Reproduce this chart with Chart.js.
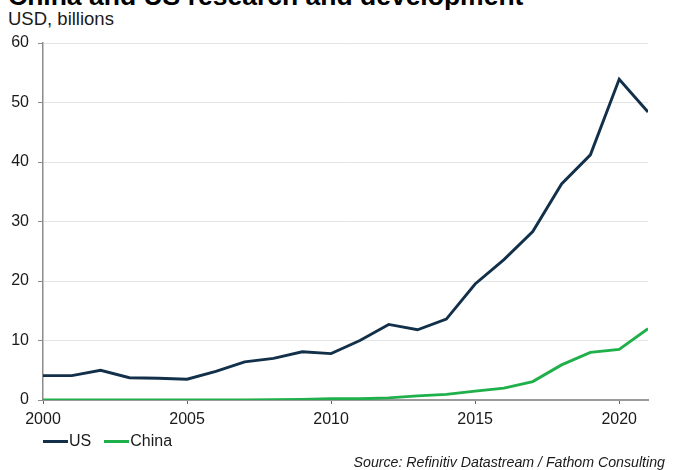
<!DOCTYPE html>
<html>
<head>
<meta charset="utf-8">
<script src="https://cdn.jsdelivr.net/npm/chart.js@4"></script>
<style>
  html, body { margin: 0; padding: 0; background: #fff; overflow: hidden; }
  #wrap { position: relative; width: 678px; height: 470px; font-family: "Liberation Sans", Arial, sans-serif; color: #1a1a1a; }
  #chart { position: absolute; left: 0; top: 0; }
  .titulo { position: absolute; left: 8px; top: -17px; font-size: 26.5px; line-height: 26.5px; font-weight: bold; color: #000; white-space: nowrap; }
  .unidade { position: absolute; left: 8px; top: 10px; font-size: 18.5px; line-height: 18.5px; }
  .fonte { position: absolute; right: 13px; top: 455px; font-size: 14.2px; line-height: 14px; font-style: italic; }
  .legenda { position: absolute; left: 43px; top: 432px; font-size: 16px; line-height: 18px; display: flex; gap: 13px; }
  .legenda span.item { display: flex; align-items: center; }
  .legenda span.linha { display: inline-block; width: 25px; height: 3px; margin-right: 1px; }
</style>
</head>
<body>
<div id="wrap">
  <div class="titulo">China and US research and development</div>
  <div class="unidade">USD, billions</div>
  <canvas id="chart" width="678" height="470"></canvas>
  <div class="legenda" id="legenda"></div>
  <div class="fonte">Source: Refinitiv Datastream / Fathom Consulting</div>
</div>
<script>
// anos e gastos em P&D (USD bilhões)
const anos = [2000, 2001, 2002, 2003, 2004, 2005, 2006, 2007, 2008, 2009, 2010,
              2011, 2012, 2013, 2014, 2015, 2016, 2017, 2018, 2019, 2020, 2021];
const valoresUS = [4.1, 4.1, 5.0, 3.75, 3.65, 3.5, 4.8, 6.4, 7.0, 8.1, 7.8,
                   10.0, 12.7, 11.8, 13.6, 19.5, 23.6, 28.3, 36.3, 41.2, 53.9, 48.4];
const valoresChina = [0, 0, 0, 0, 0, 0, 0, 0, 0.05, 0.1, 0.2,
                      0.2, 0.35, 0.7, 0.95, 1.5, 2.0, 3.1, 5.9, 8.0, 8.5, 12.0];
const ticksX = [2000, 2005, 2010, 2015, 2020];
const ticksY = [0, 10, 20, 30, 40, 50, 60];

const series = [
    { label: 'US', valores: valoresUS, cor: '#13304a' },
    { label: 'China', valores: valoresChina, cor: '#20b04b' }
];

const fonteEixo = { family: '"Liberation Sans", Arial, sans-serif', size: 16 };

const ctx = document.getElementById('chart').getContext('2d');
const chart = new Chart(ctx, {
    type: 'line',
    data: {
        datasets: series.map(s => ({
            label: s.label,
            data: anos.map((a, i) => ({ x: a, y: s.valores[i] })),
            borderColor: s.cor,
            backgroundColor: s.cor,
            borderWidth: 2.9,
            pointRadius: 0,
            tension: 0,
            borderJoinStyle: 'miter'
        }))
    },
    options: {
        responsive: false,
        animation: false,
        layout: { padding: { top: 43, right: 30, bottom: 46, left: 0 } },
        plugins: {
            legend: { display: false },
            tooltip: { enabled: false }
        },
        scales: {
            x: {
                type: 'linear',
                min: anos[0],
                max: anos[anos.length - 1],
                afterFit: scale => { scale.height = 24; },
                afterBuildTicks: scale => { scale.ticks = ticksX.map(v => ({ value: v })); },
                border: { color: '#9a9a9a', width: 2 },
                grid: { drawOnChartArea: false, tickLength: 4, tickColor: '#666', tickWidth: 1 },
                ticks: {
                    color: '#1a1a1a',
                    font: fonteEixo,
                    padding: 6,
                    maxRotation: 0,
                    callback: v => String(v)
                }
            },
            y: {
                min: 0,
                max: 60,
                afterFit: scale => { scale.width = 43; },
                afterBuildTicks: scale => { scale.ticks = ticksY.map(v => ({ value: v })); },
                border: { color: '#8c8c8c', width: 1.5 },
                grid: { color: '#e4e4e4', lineWidth: 1, tickLength: 5, tickColor: '#8c8c8c' },
                ticks: {
                    color: '#1a1a1a',
                    font: fonteEixo,
                    padding: 9,
                    callback: v => String(v)
                }
            }
        }
    }
});

// legenda simples abaixo do eixo
const legenda = document.getElementById('legenda');
series.forEach(s => {
    const item = document.createElement('span');
    item.className = 'item';
    const linha = document.createElement('span');
    linha.className = 'linha';
    linha.style.background = s.cor;
    item.appendChild(linha);
    item.appendChild(document.createTextNode(s.label));
    legenda.appendChild(item);
});
</script>
</body>
</html>
